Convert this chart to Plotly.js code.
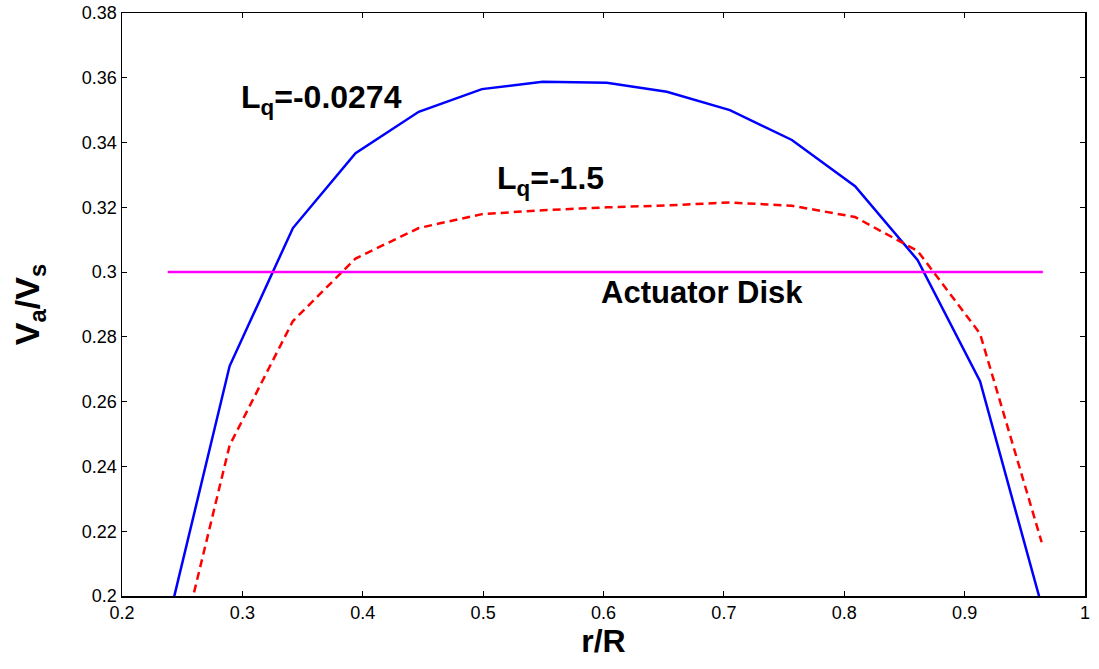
<!DOCTYPE html>
<html>
<head>
<meta charset="utf-8">
<script src="https://cdn.plot.ly/plotly-3.0.1.min.js"></script>
<style>html,body{margin:0;padding:0;background:#fff;}#chart{width:1099px;height:669px;}</style>
</head>
<body>
<div id="chart"></div>
<script>
// r/R positions
const rBlue = [0.237, 0.2894, 0.342, 0.394, 0.4465, 0.499, 0.5495, 0.6027, 0.6526, 0.705, 0.7565, 0.809, 0.861, 0.9128, 0.964];
const vBlue = [0.190, 0.271, 0.3136, 0.3367, 0.3495, 0.3565, 0.3588, 0.3585, 0.3557, 0.350, 0.3408, 0.3265, 0.3037, 0.2663, 0.197];
const rRed = [0.237, 0.2894, 0.342, 0.394, 0.4465, 0.499, 0.5495, 0.6027, 0.6526, 0.705, 0.7565, 0.809, 0.861, 0.9128, 0.964];
const vRed = [0.166, 0.2465, 0.2849, 0.3042, 0.3136, 0.3179, 0.3191, 0.3200, 0.3206, 0.3215, 0.3205, 0.3170, 0.3065, 0.2810, 0.2166];
const rDisk = [0.238, 0.965];
const vDisk = [0.3, 0.3];
const xTicks = [0.2, 0.3, 0.4, 0.5, 0.6, 0.7, 0.8, 0.9, 1];
const xTickText = ["0.2", "0.3", "0.4", "0.5", "0.6", "0.7", "0.8", "0.9", "1"];
const yTicks = [0.2, 0.22, 0.24, 0.26, 0.28, 0.3, 0.32, 0.34, 0.36, 0.38];
const yTickText = ["0.2", "0.22", "0.24", "0.26", "0.28", "0.3", "0.32", "0.34", "0.36", "0.38"];
const labels = ["L<sub>q</sub>=-0.0274", "L<sub>q</sub>=-1.5", "Actuator Disk"];
const labelX = [0.297, 0.5095, 0.5965];
const labelY = [0.3533, 0.3282, 0.2936];

const traces = [
  {x: rBlue, y: vBlue, mode: 'lines', line: {color: '#0000ff', width: 2.5}, hoverinfo: 'none'},
  {x: rRed, y: vRed, mode: 'lines', line: {color: '#ff0000', width: 2.5, dash: '8px,5px'}, hoverinfo: 'none'},
  {x: rDisk, y: vDisk, mode: 'lines', line: {color: '#ff00ff', width: 2.5}, hoverinfo: 'none'}
];

const font = 'Liberation Sans, Arial, sans-serif';
const annotations = labels.map((t, i) => ({
  x: labelX[i], y: labelY[i], xref: 'x', yref: 'y', text: '<b>' + t + '</b>',
  showarrow: false, xanchor: 'left', yanchor: 'middle',
  font: {family: font, size: i === 2 ? 31 : 32, color: '#000'}
}));

const layout = {
  width: 1099, height: 669,
  margin: {l: 122, r: 14, t: 13, b: 73},
  paper_bgcolor: '#fff', plot_bgcolor: '#fff',
  showlegend: false,
  font: {family: font, size: 18, color: '#000'},
  xaxis: {
    range: [0.2, 1], tickvals: xTicks, ticktext: xTickText,
    showgrid: false, zeroline: false, showline: true, linecolor: '#000', linewidth: 1.5,
    mirror: 'ticks', ticks: 'inside', ticklen: 5, tickcolor: '#000', tickwidth: 1,
    tickfont: {size: 18},
    title: {text: '<b>r/R</b>', font: {size: 32}, standoff: 4}
  },
  yaxis: {
    range: [0.2, 0.38], tickvals: yTicks, ticktext: yTickText,
    showgrid: false, zeroline: false, showline: true, linecolor: '#000', linewidth: 1.5,
    mirror: 'ticks', ticks: 'inside', ticklen: 5, tickcolor: '#000', tickwidth: 1,
    tickfont: {size: 18},
    title: {text: '<b>V<sub>a</sub>/V<sub>s</sub></b>', font: {size: 34}, standoff: 32}
  },
  annotations: annotations
};

Plotly.newPlot('chart', traces, layout, {displayModeBar: false, staticPlot: true});
</script>
</body>
</html>
